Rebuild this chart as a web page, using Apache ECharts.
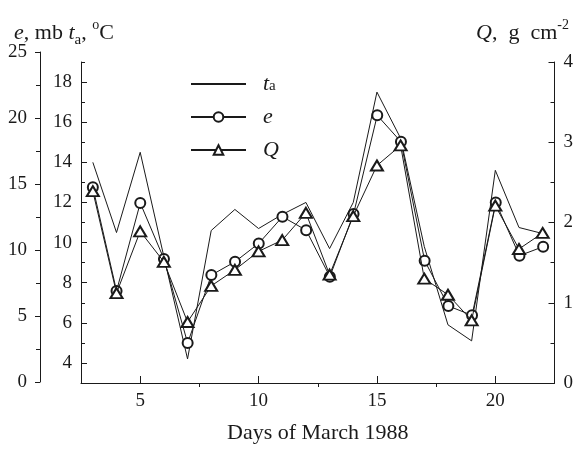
<!DOCTYPE html>
<html>
<head>
<meta charset="utf-8">
<script src="https://cdn.jsdelivr.net/npm/echarts@6/dist/echarts.min.js"></script>
<style>html,body{margin:0;padding:0;background:#fff;}#c{width:576px;height:449px;}</style>
</head>
<body>
<div id="c"></div>
<script>
// ---- data ----
var days = [3,4,5,6,7,8,9,10,11,12,13,14,15,16,17,18,19,20,21,22];
var taValues = [14.0,10.5,14.5,9.3,4.2,10.6,11.65,10.7,11.4,12.0,9.7,12.0,17.5,15.2,9.8,5.9,5.1,13.6,10.75,10.45];   // t_a, degC (inner left axis)
var eValues = [14.75,6.9,13.56,9.32,2.95,8.1,9.11,10.5,12.52,11.5,7.98,12.73,20.2,18.2,9.19,5.76,5.05,13.6,9.57,10.25]; // e, mb (outer left axis)
var qValues = [2.39,1.12,1.89,1.51,0.76,1.21,1.41,1.64,1.78,2.12,1.35,2.08,2.71,2.96,1.30,1.10,0.78,2.21,1.67,1.87];  // Q, g cm^-2 (right axis)
var xMajorTicks = [5,10,15,20];
var xMinorTicks = [7.5,12.5,17.5];
var taMajorTicks = [4,6,8,10,12,14,16,18];
var taMinorTicks = [5,7,9,11,13,15,17,19];
var qMajorTicks = [0,1,2,3,4];
var qMinorTicks = [0.5,1.5,2.5,3.5];
var eMajorTicks = [0,5,10,15,20,25];
var eMinorTicks = [2.5,7.5,12.5,17.5,22.5];

function pairs(v){ return days.map(function(d,i){ return [d, v[i]]; }); }

var FONT = 'Liberation Serif';
var INK = '#1a1a1a';
var lineS = {color: INK, width: 1};
var labelS = {fontFamily: FONT, fontSize: 19, color: INK};

var chart = echarts.init(document.getElementById('c'));
chart.setOption({
  backgroundColor: '#fff',
  animation: false,
  title: [
    {left: 9, top: 13, text: '{i|e}{n|, mb }{i|t}{sub|a}{n|, }{sup|o}{n|C}',
     textStyle: {fontWeight: 'normal', rich: {
       i: {fontFamily: FONT, fontStyle: 'italic', fontWeight: 'normal', fontSize: 22, color: INK, lineHeight: 26},
       n: {fontFamily: FONT, fontWeight: 'normal', fontSize: 22, color: INK, lineHeight: 26},
       sub: {fontFamily: FONT, fontWeight: 'normal', fontSize: 15, color: INK, verticalAlign: 'bottom', lineHeight: 20},
       sup: {fontFamily: FONT, fontWeight: 'normal', fontSize: 14, color: INK, verticalAlign: 'top', lineHeight: 30}
     }}},
    {right: 2, top: 13, text: '{i|Q}{n|,  g  cm}{sup|-2}',
     textStyle: {fontWeight: 'normal', rich: {
       i: {fontFamily: FONT, fontStyle: 'italic', fontWeight: 'normal', fontSize: 22, color: INK, lineHeight: 26},
       n: {fontFamily: FONT, fontWeight: 'normal', fontSize: 22, color: INK, lineHeight: 26},
       sup: {fontFamily: FONT, fontWeight: 'normal', fontSize: 14, color: INK, verticalAlign: 'top', lineHeight: 30}
     }}}
  ],
  legend: {
    orient: 'vertical', left: 185, top: 68,
    itemWidth: 55, itemHeight: 12, itemGap: 11,
    data: [{name: 't_a', itemStyle: {opacity: 0}}, 'e', 'Q'],
    formatter: function(n){ return n === 't_a' ? '{i|t}{s|a}' : '{i|' + n + '}'; },
    textStyle: {rich: {
      i: {fontFamily: FONT, fontStyle: 'italic', fontSize: 22, color: INK, padding: [0,0,0,12], lineHeight: 20},
      s: {fontFamily: FONT, fontSize: 15, color: INK, verticalAlign: 'bottom', lineHeight: 14}
    }}
  },
  grid: [
    {left: 81, right: 21, top: 62, bottom: 61},
    {left: 81, right: 21, top: 52, bottom: 67}
  ],
  xAxis: [
    {gridIndex: 0, type: 'value', min: 2.5, max: 22.5,
     axisLine: {lineStyle: lineS},
     axisTick: {inside: true, length: 7, customValues: xMajorTicks, lineStyle: lineS},
     axisLabel: Object.assign({customValues: xMajorTicks, margin: 9}, labelS),
     splitLine: {show: false},
     name: 'Days of March 1988', nameLocation: 'middle', nameGap: 39,
     nameTextStyle: {fontFamily: FONT, fontSize: 22, color: INK}},
    {gridIndex: 0, type: 'value', min: 2.5, max: 22.5,
     axisLine: {show: false},
     axisTick: {inside: true, length: 4, customValues: xMinorTicks, lineStyle: lineS},
     axisLabel: {show: false}, splitLine: {show: false}},
    {gridIndex: 1, type: 'value', min: 2.5, max: 22.5, show: false}
  ],
  yAxis: [
    {gridIndex: 0, type: 'value', position: 'left', min: 3, max: 19,
     axisLine: {show: true, lineStyle: lineS},
     axisTick: {show: true, inside: true, length: 6, customValues: taMajorTicks, lineStyle: lineS},
     axisLabel: Object.assign({customValues: taMajorTicks, margin: 9}, labelS),
     splitLine: {show: false}},
    {gridIndex: 0, type: 'value', position: 'left', min: 3, max: 19,
     axisLine: {show: false},
     axisTick: {show: true, inside: true, length: 4, customValues: taMinorTicks, lineStyle: lineS},
     axisLabel: {show: false}, splitLine: {show: false}},
    {gridIndex: 0, type: 'value', position: 'right', min: 0, max: 4,
     axisLine: {show: true, lineStyle: lineS},
     axisTick: {show: true, inside: true, length: 6, customValues: qMajorTicks, lineStyle: lineS},
     axisLabel: Object.assign({customValues: qMajorTicks, margin: 9}, labelS),
     splitLine: {show: false}},
    {gridIndex: 0, type: 'value', position: 'right', min: 0, max: 4,
     axisLine: {show: false},
     axisTick: {show: true, inside: true, length: 4, customValues: qMinorTicks, lineStyle: lineS},
     axisLabel: {show: false}, splitLine: {show: false}},
    {gridIndex: 1, type: 'value', position: 'left', offset: 41, min: 0, max: 25,
     axisLine: {show: true, lineStyle: lineS},
     axisTick: {show: true, inside: false, length: 5, customValues: eMajorTicks, lineStyle: lineS},
     axisLabel: Object.assign({customValues: eMajorTicks, margin: 13}, labelS),
     splitLine: {show: false}},
    {gridIndex: 1, type: 'value', position: 'left', offset: 41, min: 0, max: 25,
     axisLine: {show: false},
     axisTick: {show: true, inside: false, length: 4, customValues: eMinorTicks, lineStyle: lineS},
     axisLabel: {show: false}, splitLine: {show: false}}
  ],
  series: [
    {name: 't_a', type: 'line', xAxisIndex: 0, yAxisIndex: 0, data: pairs(taValues),
     symbol: 'none', lineStyle: {color: INK, width: 1}, itemStyle: {color: INK}, z: 2},
    {name: 'e', type: 'line', xAxisIndex: 2, yAxisIndex: 4, data: pairs(eValues),
     symbol: 'emptyCircle', symbolSize: 10, lineStyle: {color: INK, width: 1},
     itemStyle: {color: INK, borderColor: INK, borderWidth: 1}, z: 3},
    {name: 'Q', type: 'line', xAxisIndex: 0, yAxisIndex: 2, data: pairs(qValues),
     symbol: 'emptyTriangle', symbolSize: [12, 10], lineStyle: {color: INK, width: 1},
     itemStyle: {color: INK, borderColor: INK, borderWidth: 1}, z: 4}
  ]
});
</script>
</body>
</html>
